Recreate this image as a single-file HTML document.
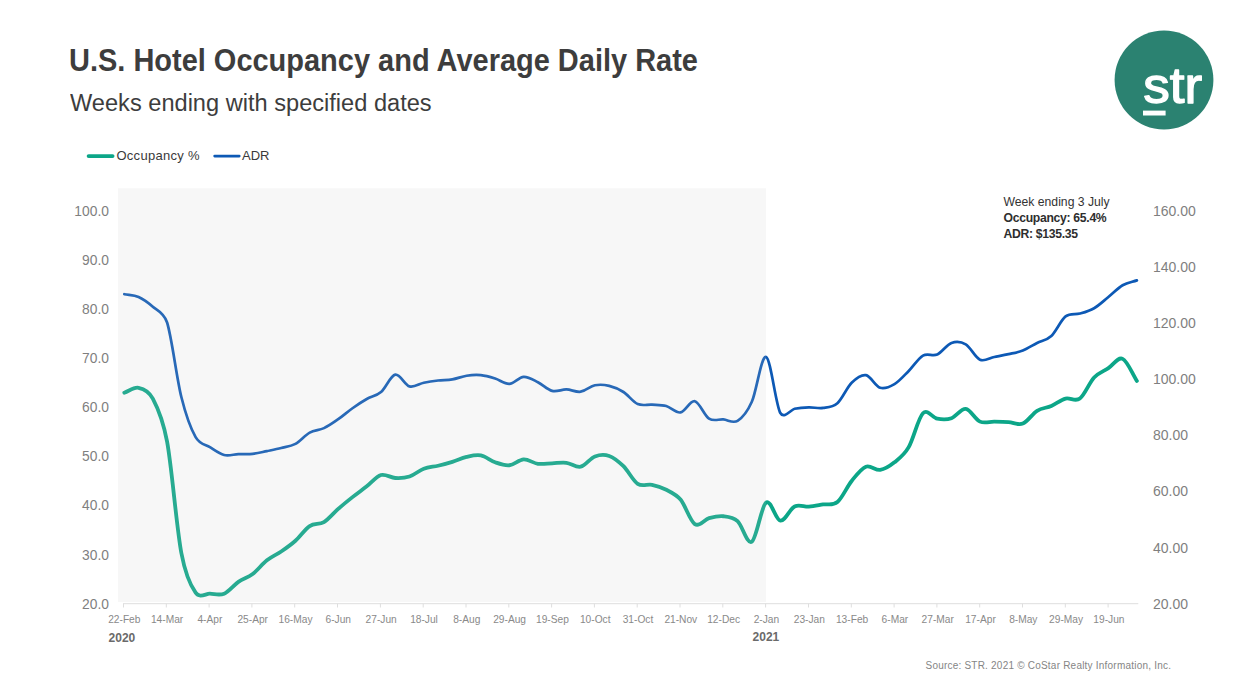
<!DOCTYPE html>
<html><head><meta charset="utf-8"><title>U.S. Hotel Occupancy and Average Daily Rate</title>
<style>
html,body{margin:0;padding:0;background:#fff;}
body{width:1245px;height:700px;position:relative;overflow:hidden;font-family:"Liberation Sans",sans-serif;}
.title{position:absolute;left:69.4px;top:41.0px;font-size:30.7px;font-weight:bold;color:#3d3d3d;white-space:nowrap;line-height:40px;transform-origin:left center;transform:scaleX(0.944);}
.sub{position:absolute;left:70.3px;top:88.4px;font-size:23.3px;color:#3d3d3d;white-space:nowrap;line-height:30px;transform-origin:left center;transform:scaleX(1.013);}
.leg{position:absolute;top:148px;font-size:13px;color:#3a3a3a;line-height:16px;white-space:nowrap;}
.ann{position:absolute;left:1003.5px;top:194px;font-size:12.2px;line-height:16px;color:#333;white-space:nowrap;}
.ann b{font-weight:bold;color:#2e2e2e;letter-spacing:-0.3px;}
.src{position:absolute;left:925.5px;top:658.6px;font-size:10px;color:#858585;white-space:nowrap;line-height:14px;letter-spacing:0.215px;}
svg{position:absolute;left:0;top:0;}
svg text{font-family:"Liberation Sans",sans-serif;}
</style></head><body>
<svg width="1245" height="700" viewBox="0 0 1245 700">
<line x1="123" y1="603.7" x2="1138.3" y2="603.7" stroke="#dedede" stroke-width="1"/>
<g stroke="#dedede" stroke-width="1"><line x1="123.5" y1="603.7" x2="123.5" y2="607.5"/><line x1="166.3" y1="603.7" x2="166.3" y2="607.5"/><line x1="209.1" y1="603.7" x2="209.1" y2="607.5"/><line x1="251.9" y1="603.7" x2="251.9" y2="607.5"/><line x1="294.7" y1="603.7" x2="294.7" y2="607.5"/><line x1="337.5" y1="603.7" x2="337.5" y2="607.5"/><line x1="380.4" y1="603.7" x2="380.4" y2="607.5"/><line x1="423.2" y1="603.7" x2="423.2" y2="607.5"/><line x1="466.0" y1="603.7" x2="466.0" y2="607.5"/><line x1="508.8" y1="603.7" x2="508.8" y2="607.5"/><line x1="551.6" y1="603.7" x2="551.6" y2="607.5"/><line x1="594.4" y1="603.7" x2="594.4" y2="607.5"/><line x1="637.2" y1="603.7" x2="637.2" y2="607.5"/><line x1="680.0" y1="603.7" x2="680.0" y2="607.5"/><line x1="722.8" y1="603.7" x2="722.8" y2="607.5"/><line x1="765.6" y1="603.7" x2="765.6" y2="607.5"/><line x1="808.5" y1="603.7" x2="808.5" y2="607.5"/><line x1="851.3" y1="603.7" x2="851.3" y2="607.5"/><line x1="894.1" y1="603.7" x2="894.1" y2="607.5"/><line x1="936.9" y1="603.7" x2="936.9" y2="607.5"/><line x1="979.7" y1="603.7" x2="979.7" y2="607.5"/><line x1="1022.5" y1="603.7" x2="1022.5" y2="607.5"/><line x1="1065.3" y1="603.7" x2="1065.3" y2="607.5"/><line x1="1108.1" y1="603.7" x2="1108.1" y2="607.5"/></g>
<g font-size="10.2" fill="#898989" text-anchor="middle"><text x="124.3" y="623.3">22-Feb</text><text x="167.1" y="623.3">14-Mar</text><text x="209.9" y="623.3">4-Apr</text><text x="252.7" y="623.3">25-Apr</text><text x="295.5" y="623.3">16-May</text><text x="338.3" y="623.3">6-Jun</text><text x="381.2" y="623.3">27-Jun</text><text x="424.0" y="623.3">18-Jul</text><text x="466.8" y="623.3">8-Aug</text><text x="509.6" y="623.3">29-Aug</text><text x="552.4" y="623.3">19-Sep</text><text x="595.2" y="623.3">10-Oct</text><text x="638.0" y="623.3">31-Oct</text><text x="680.8" y="623.3">21-Nov</text><text x="723.6" y="623.3">12-Dec</text><text x="766.4" y="623.3">2-Jan</text><text x="809.3" y="623.3">23-Jan</text><text x="852.1" y="623.3">13-Feb</text><text x="894.9" y="623.3">6-Mar</text><text x="937.7" y="623.3">27-Mar</text><text x="980.5" y="623.3">17-Apr</text><text x="1023.3" y="623.3">8-May</text><text x="1066.1" y="623.3">29-May</text><text x="1108.9" y="623.3">19-Jun</text></g>
<g font-size="12" font-weight="bold" fill="#6a6a6a"><text x="108.6" y="641.8">2020</text><text x="752.6" y="640.6">2021</text></g>
<g font-size="13.8" fill="#7f7f7f" text-anchor="end"><text x="108.9" y="216.3">100.0</text><text x="108.9" y="265.3">90.0</text><text x="108.9" y="314.4">80.0</text><text x="108.9" y="363.4">70.0</text><text x="108.9" y="412.4">60.0</text><text x="108.9" y="461.4">50.0</text><text x="108.9" y="510.4">40.0</text><text x="108.9" y="559.5">30.0</text><text x="108.9" y="608.5">20.0</text></g>
<g font-size="14" fill="#7f7f7f"><text x="1153" y="216.3">160.00</text><text x="1153" y="272.3">140.00</text><text x="1153" y="328.4">120.00</text><text x="1153" y="384.4">100.00</text><text x="1153" y="440.4">80.00</text><text x="1153" y="496.4">60.00</text><text x="1153" y="552.5">40.00</text><text x="1153" y="608.5">20.00</text></g>
<path d="M124.30,294.22 C129.05,295.16 133.81,294.92 138.56,297.02 C143.32,299.12 148.07,302.58 152.82,306.83 C156.02,309.69 163.89,312.41 167.09,322.52 C171.84,337.55 176.59,377.94 181.35,397.03 C186.10,416.13 190.86,428.74 195.61,437.10 C199.93,444.69 205.55,444.47 209.87,447.18 C214.63,450.17 219.38,453.86 224.13,455.02 C228.89,456.19 233.64,454.37 238.40,454.18 C243.15,454.00 247.90,454.42 252.66,453.90 C257.41,453.39 262.17,452.08 266.92,451.10 C271.67,450.12 276.43,449.23 281.18,448.02 C285.94,446.81 290.69,446.39 295.44,443.82 C300.20,441.25 304.95,435.23 309.71,432.61 C314.46,430.00 319.21,430.37 323.97,428.13 C328.72,425.89 333.48,422.48 338.23,419.17 C342.98,415.85 347.74,411.60 352.49,408.24 C357.25,404.88 362.00,401.70 366.75,399.00 C371.51,396.29 376.26,396.05 381.02,391.99 C385.77,387.93 390.52,375.56 395.28,374.62 C400.03,373.69 404.79,385.04 409.54,386.39 C414.29,387.74 419.05,383.73 423.80,382.75 C428.56,381.77 433.31,381.07 438.06,380.51 C442.82,379.95 447.57,380.18 452.33,379.39 C457.08,378.59 461.83,376.44 466.59,375.74 C471.34,375.04 476.10,374.72 480.85,375.18 C485.60,375.65 490.36,377.10 495.11,378.55 C499.87,379.99 504.62,384.15 509.37,383.87 C514.13,383.59 518.88,377.14 523.64,376.86 C528.39,376.58 533.14,379.85 537.90,382.19 C542.65,384.52 547.41,389.66 552.16,390.87 C556.91,392.09 561.67,389.33 566.42,389.47 C571.18,389.61 575.93,392.41 580.68,391.71 C585.44,391.01 590.19,386.25 594.95,385.27 C599.70,384.29 604.45,384.71 609.21,385.83 C613.96,386.95 618.72,388.96 623.47,391.99 C628.22,395.03 632.98,401.94 637.73,404.04 C642.48,406.14 647.24,404.27 651.99,404.60 C656.75,404.93 661.50,404.69 666.25,406.00 C671.01,407.31 675.76,413.24 680.52,412.44 C685.27,411.65 690.02,400.21 694.78,401.24 C699.53,402.26 704.29,415.57 709.04,418.61 C713.79,421.64 718.55,419.07 723.30,419.45 C728.06,419.82 732.81,423.79 737.56,420.85 C742.32,417.91 747.07,412.44 751.83,401.80 C756.58,391.15 761.33,355.11 766.09,356.97 C770.84,358.84 775.60,404.37 780.35,413.00 C783.94,419.52 791.03,409.50 794.61,408.80 C799.37,407.87 804.12,407.54 808.87,407.40 C813.63,407.26 818.38,408.66 823.14,407.96 C827.89,407.26 832.64,407.40 837.40,403.20 C842.15,399.00 846.91,387.42 851.66,382.75 C856.41,378.08 861.17,374.34 865.92,375.18 C870.68,376.02 875.43,386.30 880.18,387.79 C884.94,389.28 889.69,386.95 894.45,384.15 C899.20,381.35 903.95,375.74 908.71,370.98 C913.46,366.22 918.22,358.33 922.97,355.57 C927.72,352.82 932.48,356.55 937.23,354.45 C941.99,352.35 946.74,344.65 951.49,342.97 C956.25,341.29 961.00,341.57 965.76,344.37 C970.51,347.17 975.26,357.67 980.02,359.78 C984.77,361.88 989.53,357.91 994.28,356.97 C999.03,356.04 1003.79,355.25 1008.54,354.17 C1013.30,353.10 1018.05,352.40 1022.80,350.53 C1027.56,348.66 1032.31,345.40 1037.07,342.97 C1041.82,340.54 1046.57,340.40 1051.33,335.96 C1056.08,331.53 1060.84,320.09 1065.59,316.35 C1070.34,312.62 1075.10,314.91 1079.85,313.55 C1084.61,312.20 1089.36,310.98 1094.11,308.23 C1098.87,305.47 1103.62,300.85 1108.38,297.02 C1113.13,293.20 1117.88,288.04 1122.64,285.26 C1127.39,282.48 1132.15,281.99 1136.90,280.36" fill="none" stroke="#0d59b5" stroke-width="2.7" stroke-linecap="round" stroke-linejoin="round"/>
<path d="M124.30,392.69 C129.05,391.06 133.81,386.81 138.56,387.79 C142.74,388.65 148.64,390.67 152.82,398.58 C156.95,406.38 162.96,419.38 167.09,441.72 C171.84,467.46 176.59,527.84 181.35,553.00 C185.26,573.73 191.69,587.13 195.61,592.71 C199.71,598.57 205.77,593.55 209.87,593.70 C214.63,593.86 219.38,595.66 224.13,593.70 C228.89,591.73 233.64,585.20 238.40,581.93 C243.15,578.66 247.90,577.68 252.66,574.09 C257.41,570.49 262.17,564.12 266.92,560.36 C271.67,556.60 276.43,554.80 281.18,551.53 C285.94,548.27 290.69,545.00 295.44,540.75 C300.20,536.50 304.95,529.15 309.71,526.04 C314.46,522.94 319.21,524.98 323.97,522.12 C328.72,519.26 333.48,513.05 338.23,508.88 C342.98,504.71 347.74,500.87 352.49,497.12 C357.25,493.36 362.00,490.01 366.75,486.33 C371.51,482.65 376.26,476.44 381.02,475.05 C385.77,473.67 390.52,477.75 395.28,478.00 C400.03,478.24 404.79,478.08 409.54,476.53 C414.29,474.97 419.05,470.48 423.80,468.68 C428.56,466.88 433.31,466.88 438.06,465.74 C442.82,464.60 447.57,463.29 452.33,461.82 C457.08,460.35 461.83,457.98 466.59,456.92 C471.34,455.85 476.10,454.55 480.85,455.44 C485.60,456.34 490.36,460.67 495.11,462.31 C499.87,463.94 504.62,465.74 509.37,465.25 C514.13,464.76 518.88,459.61 523.64,459.37 C528.39,459.12 533.14,463.13 537.90,463.78 C542.65,464.43 547.41,463.45 552.16,463.29 C556.91,463.13 561.67,462.23 566.42,462.80 C571.18,463.37 575.93,467.78 580.68,466.72 C585.44,465.66 590.19,458.22 594.95,456.43 C599.70,454.63 604.45,454.30 609.21,455.93 C613.96,457.57 618.72,461.57 623.47,466.23 C628.22,470.89 632.98,480.77 637.73,483.88 C642.48,486.98 647.24,483.88 651.99,484.86 C656.75,485.84 661.50,487.31 666.25,489.76 C671.01,492.21 675.76,493.85 680.52,499.57 C685.27,505.29 690.02,520.97 694.78,524.08 C699.53,527.18 704.29,519.50 709.04,518.20 C713.79,516.89 718.55,515.75 723.30,516.24 C728.06,516.73 732.81,516.89 737.56,521.14 C742.32,525.39 747.07,544.83 751.83,541.73 C756.58,538.62 761.33,506.02 766.09,502.51 C770.84,499.00 775.60,519.99 780.35,520.65 C785.10,521.30 789.86,508.76 794.61,506.43 C799.37,504.10 804.12,507.00 808.87,506.68 C813.63,506.35 818.38,505.25 823.14,504.47 C827.89,503.69 832.64,505.94 837.40,502.02 C842.15,498.10 846.91,486.82 851.66,480.94 C856.41,475.05 861.17,468.56 865.92,466.72 C870.68,464.88 875.43,470.64 880.18,469.91 C884.94,469.17 889.69,466.11 894.45,462.31 C899.20,458.51 903.95,455.28 908.71,447.11 C913.46,438.94 918.22,418.02 922.97,413.28 C927.72,408.54 932.48,417.86 937.23,418.68 C941.99,419.49 946.74,419.82 951.49,418.19 C956.25,416.55 961.00,408.30 965.76,408.87 C970.51,409.44 975.26,419.49 980.02,421.62 C984.77,423.74 989.53,421.54 994.28,421.62 C999.03,421.70 1003.79,421.78 1008.54,422.11 C1013.30,422.43 1018.05,425.46 1022.80,423.58 C1027.56,421.70 1032.31,413.77 1037.07,410.83 C1041.82,407.89 1046.57,407.97 1051.33,405.93 C1056.08,403.89 1060.84,399.80 1065.59,398.58 C1070.34,397.35 1075.10,402.09 1079.85,398.58 C1084.61,395.06 1089.36,382.56 1094.11,377.49 C1098.87,372.43 1103.62,371.28 1108.38,368.18 C1113.13,365.08 1117.88,356.74 1122.64,358.87 C1127.39,360.99 1132.15,373.57 1136.90,380.93" fill="none" stroke="#0ca688" stroke-width="3.8" stroke-linecap="round" stroke-linejoin="round"/>
<rect x="118" y="188.2" width="648" height="413.8" fill="#c8c8c8" fill-opacity="0.145"/>
<line x1="88.6" y1="156.1" x2="112.6" y2="156.1" stroke="#0ca688" stroke-width="3.8" stroke-linecap="round"/>
<line x1="214.6" y1="156.1" x2="239.3" y2="156.1" stroke="#0d59b5" stroke-width="2.6" stroke-linecap="round"/>
<circle cx="1164" cy="80" r="49.4" fill="#2b8271"/>
<text x="1143.2" y="103.1" font-size="49.3" fill="#fff" stroke="#fff" stroke-width="1.3" stroke-linejoin="round" textLength="59" lengthAdjust="spacingAndGlyphs">str</text>
<rect x="1143" y="110.6" width="22.6" height="4.9" fill="#fff"/>
</svg>
<div class="title">U.S. Hotel Occupancy and Average Daily Rate</div>
<div class="sub">Weeks ending with specified dates</div>
<div class="leg" style="left:116.4px;letter-spacing:0.3px">Occupancy %</div>
<div class="leg" style="left:242px">ADR</div>
<div class="ann">Week ending 3 July<br><b>Occupancy: 65.4%</b><br><b>ADR: $135.35</b></div>
<div class="src">Source: STR. 2021 © CoStar Realty Information, Inc.</div>
</body></html>
